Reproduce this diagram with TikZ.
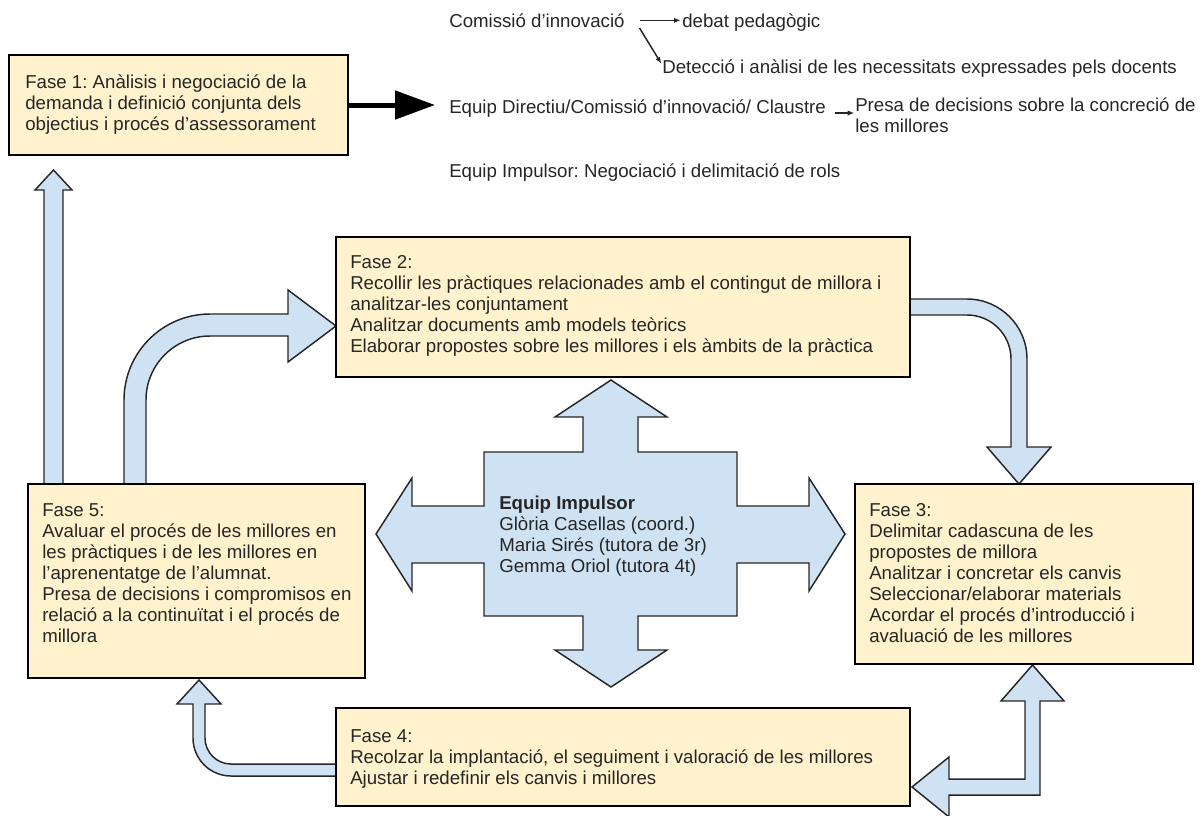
\documentclass[tikz,border=0pt]{standalone}
\usepackage{fontspec}
\setmainfont{Liberation Sans}
\usetikzlibrary{arrows.meta,fit,shadows}
\definecolor{boxfill}{HTML}{FFF2CC}
\definecolor{arrfill}{HTML}{CFE2F3}
\definecolor{ink}{HTML}{262626}
\frenchspacing
\begin{document}
\begin{tikzpicture}[x=0.75pt,y=-0.75pt,
  box/.style={draw=black, line width=1.6pt, fill=boxfill, inner sep=0pt,
    drop shadow={shadow xshift=1.1pt, shadow yshift=-1.1pt, fill=black!30}},
  blk/.style={draw=ink, line width=1.1pt, fill=arrfill, line join=miter},
  lbl/.style={font=\fontsize{14}{15.75}\selectfont, text=ink, inner sep=0pt, align=left},
  thinarr/.style={draw=ink, line width=1.1pt, -{Latex[length=5pt,width=4pt]}},
]
\useasboundingbox (0,0) rectangle (1202,815);

% ---- blue block arrows ----
% Fase 5 -> Fase 1 (straight up)
\draw[blk] (44,484) -- (44,190) -- (35,190) -- (53.5,170) -- (72,190) -- (63,190) -- (63,484) -- cycle;
% Fase 5 -> Fase 2 (curved)
\draw[blk] (124,484) -- (124,400) arc[start angle=180, end angle=270, radius=86]
  -- (288,314) -- (288,290) -- (336,326) -- (288,362) -- (288,336) -- (210,336)
  arc[start angle=270, end angle=180, radius=64] -- (146,484) -- cycle;
% Fase 2 -> Fase 3 (curved)
\draw[blk] (910,299) -- (967,299) arc[start angle=270, end angle=360, radius=60]
  -- (1027,447) -- (1051,447) -- (1019,484) -- (987,447) -- (1011,447) -- (1011,359)
  arc[start angle=0, end angle=-90, radius=44] -- (910,315) -- cycle;
% Fase 4 -> Fase 5 (curved)
\draw[blk] (336,764) -- (231,764) arc[start angle=90, end angle=180, radius=26]
  -- (205,704) -- (221,704) -- (199,680) -- (177,704) -- (193,704) -- (193,738)
  arc[start angle=180, end angle=90, radius=38] -- (336,776) -- cycle;
% Fase 3 <-> Fase 4 (elbow, double headed)
\draw[blk] (912,787) -- (949,757) -- (949,779) -- (1025,779) -- (1025,701) -- (1001,701)
  -- (1032.5,665) -- (1064,701) -- (1040,701) -- (1040,795) -- (949,795) -- (949,817) -- cycle;
% central four-way arrow
\draw[blk] (611,380) -- (667,417) -- (638,417) -- (638,452) -- (737,452) -- (737,506)
  -- (809,506) -- (809,478) -- (845,534) -- (809,591) -- (809,563) -- (737,563)
  -- (737,616) -- (638,616) -- (638,650) -- (667,650) -- (611,687) -- (555,650)
  -- (583,650) -- (583,616) -- (484,616) -- (484,563) -- (412,563) -- (412,591)
  -- (376,534) -- (412,478) -- (412,506) -- (484,506) -- (484,452) -- (583,452)
  -- (583,417) -- (555,417) -- cycle;
\node[lbl, anchor=north west] (eqi) at (499,495)
  {\strut\textbf{Equip Impulsor}\\Glòria Casellas (coord.)\\Maria Sirés (tutora de 3r)\\Gemma Oriol (tutora 4t)};

% ---- phase boxes ----
\node[box, fit={(9,55) (348,155)}] (f1) {};
\node[lbl, anchor=north west] (f1t) at (25,74)
  {\strut Fase 1: Anàlisis i negociació de la\\demanda i definició conjunta dels\\objectius i procés d’assessorament};

\node[box, fit={(336,237) (910,377)}] (f2) {};
\node[lbl, anchor=north west] (f2t) at (350,254)
  {\strut Fase 2:\\Recollir les pràctiques relacionades amb el contingut de millora i\\analitzar-les conjuntament\\Analitzar documents amb models teòrics\\Elaborar propostes sobre les millores i els àmbits de la pràctica};

\node[box, fit={(855,484) (1193,664)}] (f3) {};
\node[lbl, anchor=north west] (f3t) at (869,502)
  {\strut Fase 3:\\Delimitar cadascuna de les\\propostes de millora\\Analitzar i concretar els canvis\\Seleccionar/elaborar materials\\Acordar el procés d’introducció i\\avaluació de les millores};

\node[box, fit={(336,708) (910,806)}] (f4) {};
\node[lbl, anchor=north west] (f4t) at (350,728)
  {\strut Fase 4:\\Recolzar la implantació, el seguiment i valoració de les millores\\Ajustar i redefinir els canvis i millores};

\node[box, fit={(28,484) (365,678)}] (f5) {};
\node[lbl, anchor=north west] (f5t) at (42,502)
  {\strut Fase 5:\\Avaluar el procés de les millores en\\les pràctiques i de les millores en\\l’aprenentatge de l’alumnat.\\Presa de decisions i compromisos en\\relació a la continuïtat i el procés de\\millora};

% ---- top texts ----
\node[lbl, anchor=base west] (com) at (449,27) {Comissió d’innovació};
\node[lbl, anchor=base west] (deb) at (682,27) {debat pedagògic};
\node[lbl, anchor=base west] (det) at (662,73) {Detecció i anàlisi de les necessitats expressades pels docents};
\node[lbl, anchor=base west] (edc) at (449,113) {Equip Directiu/Comissió d’innovació/ Claustre};
\node[lbl, anchor=north west] (pre) at (855,97) {\strut Presa de decisions sobre la concreció de\\les millores};
\node[lbl, anchor=base west] (eip) at (449,177) {Equip Impulsor: Negociació i delimitació de rols};

\coordinate (bt) at (435,105);
\draw[draw=black, line width=3.75pt, -{Triangle[length=30pt,width=21pt]}] (f1.east) -- (bt);

\draw[thinarr] ([xshift=11pt,yshift=5pt]com.base east) -- ([xshift=-1pt,yshift=5pt]deb.base west);
\draw[thinarr] ([xshift=11pt,yshift=-0.75pt]com.base east) -- ([xshift=-0.5pt,yshift=7pt]det.base west);
\draw[thinarr] ([xshift=7pt,yshift=0pt]edc.base east) -- ([xshift=-0.5pt,yshift=-12pt]pre.north west);
\end{tikzpicture}
\end{document}
